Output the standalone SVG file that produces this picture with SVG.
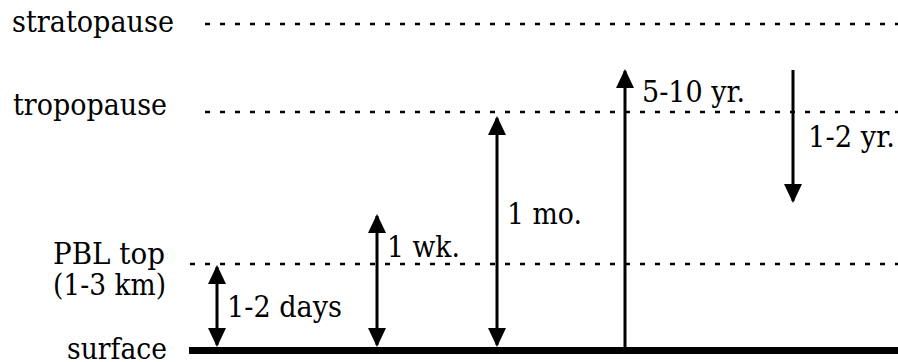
<svg xmlns="http://www.w3.org/2000/svg" width="898" height="362" viewBox="0 0 898 362">
<style>
  text { font-family: "DejaVu Serif", "Liberation Serif", serif; font-size: 29px; fill: #000; }
  .level { stroke: #000; stroke-width: 2.5; stroke-dasharray: 5 10; fill: none; }
  .arrow { stroke: #000; stroke-width: 3; fill: none; }
  .head { fill: #000; }
</style>
<defs>
  <marker id="ah" viewBox="0 0 19 18" refX="17" refY="9" markerWidth="19" markerHeight="18" markerUnits="userSpaceOnUse" orient="auto-start-reverse">
    <path d="M0,0 L19,9 L0,18 Z" class="head"/>
  </marker>
</defs>
<rect width="898" height="362" fill="#fff"/>
<g id="stratopause">
  <text x="12" y="32" textLength="162" lengthAdjust="spacingAndGlyphs">stratopause</text>
  <line class="level" x1="205" y1="24" x2="898" y2="24"/>
</g>
<g id="tropopause">
  <text x="13" y="115" textLength="154" lengthAdjust="spacingAndGlyphs">tropopause</text>
  <line class="level" x1="205" y1="112" x2="898" y2="112"/>
</g>
<g id="pbl">
  <text x="53" y="264" textLength="112" lengthAdjust="spacingAndGlyphs">PBL top</text>
  <text x="53" y="295" textLength="113" lengthAdjust="spacingAndGlyphs">(1-3 km)</text>
  <line class="level" x1="190" y1="264" x2="898" y2="264"/>
</g>
<g id="surface">
  <text x="67" y="359" textLength="100" lengthAdjust="spacingAndGlyphs">surface</text>
  <line x1="189" y1="350.5" x2="898" y2="350.5" stroke="#000" stroke-width="7"/>
</g>
<g id="connectors">
  <line class="arrow" x1="217" y1="267" x2="217" y2="345" marker-start="url(#ah)" marker-end="url(#ah)"/>
  <line class="arrow" x1="377" y1="216" x2="377" y2="345" marker-start="url(#ah)" marker-end="url(#ah)"/>
  <line class="arrow" x1="497" y1="118" x2="497" y2="345" marker-start="url(#ah)" marker-end="url(#ah)"/>
  <line class="arrow" x1="625" y1="71" x2="625" y2="347" marker-start="url(#ah)"/>
  <line class="arrow" x1="793" y1="70" x2="793" y2="201" marker-end="url(#ah)"/>
</g>
<g id="labels">
  <text x="227" y="317" textLength="115" lengthAdjust="spacingAndGlyphs">1-2 days</text>
  <text x="387" y="257" textLength="73" lengthAdjust="spacingAndGlyphs">1 wk.</text>
  <text x="507" y="224" textLength="75" lengthAdjust="spacingAndGlyphs">1 mo.</text>
  <text x="642" y="102" textLength="103" lengthAdjust="spacingAndGlyphs">5-10 yr.</text>
  <text x="808" y="147" textLength="87" lengthAdjust="spacingAndGlyphs">1-2 yr.</text>
</g>
</svg>
